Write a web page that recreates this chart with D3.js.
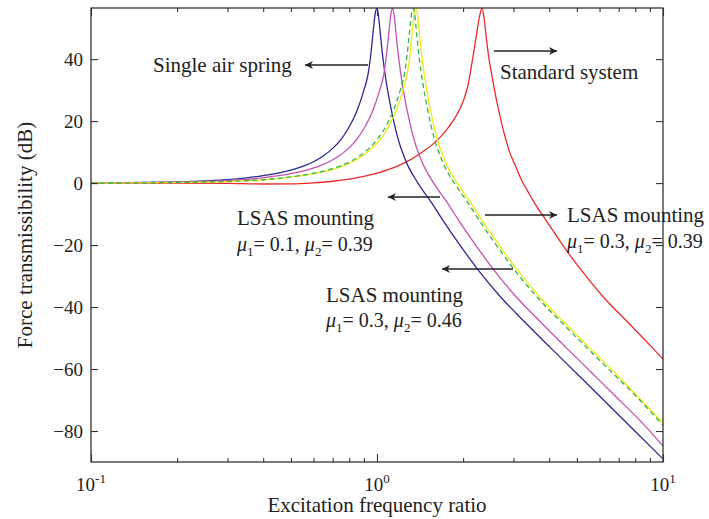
<!DOCTYPE html>
<html>
<head>
<meta charset="utf-8">
<script src="https://cdn.jsdelivr.net/npm/d3@7"></script>
<style>
  body { margin: 0; background: #fff; }
  svg text { font-family: "Liberation Serif", "DejaVu Serif", serif; fill: #222; }
</style>
</head>
<body>
<div id="chart"></div>
<script>
// data: [frequency ratio, dB]
var singleAirSpring = [[0.1,0],[0.15,0.2],[0.2,0.4],[0.25,0.7],[0.3,1.1],[0.35,1.7],[0.4,2.4],[0.45,3.2],[0.5,4.2],[0.55,5.4],[0.6,6.9],[0.65,8.8],[0.7,11.2],[0.75,14.2],[0.8,18.2],[0.85,23.2],[0.9,30],[0.93,35],[0.95,41],[0.97,49],[0.985,54.5],[1.0,56.4],[1.015,53],[1.03,47],[1.05,40],[1.08,32],[1.12,24],[1.175,15.5],[1.25,8],[1.3,4.5],[1.38,0.5],[1.45,-2.5],[1.53,-5.5],[1.7,-12],[1.95,-20],[2.3,-29],[2.69,-36.5],[3.3,-45],[4.03,-53],[5,-61.5],[6,-68.7],[7.5,-77.6],[10,-89]];

var lsas01_039 = [[0.1,0],[0.17,0.2],[0.227,0.4],[0.284,0.7],[0.34,1.1],[0.397,1.7],[0.454,2.4],[0.511,3.2],[0.568,4.2],[0.624,5.4],[0.681,6.9],[0.738,8.8],[0.795,11.2],[0.851,14.2],[0.908,18.2],[0.965,23.2],[1.022,30],[1.056,35],[1.078,41],[1.101,49],[1.118,54.5],[1.135,56.4],[1.152,53],[1.169,47],[1.192,40],[1.226,32],[1.271,24],[1.334,15.5],[1.419,8],[1.476,4.5],[1.566,0.5],[1.646,-2.5],[1.737,-5.5],[1.93,-12],[2.213,-20],[2.61,-29],[3.053,-36.5],[3.746,-45],[4.574,-53],[5.675,-61.5],[6.81,-68.7],[8.51,-77.6],[10,-84.8]];

var lsas03_039 = [[0.1,0],[0.206,0.2],[0.274,0.4],[0.343,0.7],[0.411,1.1],[0.48,1.7],[0.548,2.4],[0.617,3.2],[0.685,4.2],[0.754,5.4],[0.822,6.9],[0.891,8.8],[0.959,11.2],[1.028,14.2],[1.096,18.2],[1.165,23.2],[1.233,30],[1.274,35],[1.302,41],[1.329,49],[1.349,54.5],[1.37,56.4],[1.391,53],[1.411,47],[1.439,40],[1.48,32],[1.534,24],[1.61,15.5],[1.713,8],[1.781,4.5],[1.891,0.5],[1.987,-2.5],[2.096,-5.5],[2.329,-12],[2.672,-20],[3.151,-29],[3.685,-36.5],[4.521,-45],[5.521,-53],[6.85,-61.5],[8.22,-69.2],[10,-77.4]];

var lsas03_046 = [[0.1,0],[0.201,0.2],[0.268,0.4],[0.335,0.7],[0.402,1.1],[0.469,1.7],[0.536,2.4],[0.603,3.2],[0.67,4.2],[0.737,5.4],[0.804,6.9],[0.871,8.8],[0.938,11.2],[1.005,14.2],[1.072,18.2],[1.139,23.2],[1.206,30],[1.246,35],[1.273,41],[1.3,49],[1.32,54.5],[1.34,56.4],[1.36,53],[1.38,47],[1.407,40],[1.447,32],[1.501,24],[1.575,15.5],[1.675,8],[1.742,4.5],[1.849,0.5],[1.943,-2.5],[2.05,-5.5],[2.278,-12],[2.613,-20],[3.082,-29],[3.605,-36.5],[4.422,-45],[5.4,-53],[6.7,-61.5],[8.04,-68.7],[10,-78.2]];

var standardSystem = [[0.1,0],[0.2,0],[0.3,-0.1],[0.4,-0.3],[0.5,-0.25],[0.6,0.1],[0.7,0.6],[0.8,1.3],[0.9,2.2],[1.0,3.2],[1.1,4.4],[1.2,5.8],[1.3,7.4],[1.45,10.2],[1.6,13.3],[1.75,17.2],[1.9,22],[2.0,26.3],[2.08,31.5],[2.15,39],[2.22,47],[2.28,53.5],[2.33,56.4],[2.37,53],[2.41,47],[2.46,40.5],[2.53,34],[2.62,26.5],[2.75,18],[2.91,10],[3.05,5.5],[3.2,1],[3.36,-2.5],[3.53,-6],[3.9,-12],[4.46,-20],[5.27,-29],[6.15,-36.5],[7.55,-45],[9.15,-53],[10,-56.8]];

var yTickValues = [-80, -60, -40, -20, 0, 20, 40];
var xMajorTicks = [0.1, 1, 10];
var xMajorExponents = ["-1", "0", "1"];
var xMinorTicks = [0.2,0.3,0.4,0.5,0.6,0.7,0.8,0.9,2,3,4,5,6,7,8,9];

var width = 709, height = 519;
var plotLeft = 91, plotRight = 663, plotTop = 8, plotBottom = 462;

var svg = d3.select("#chart").append("svg")
    .attr("width", width)
    .attr("height", height);

var x = d3.scaleLog().domain([0.1, 10]).range([plotLeft, plotRight]);
var y = d3.scaleLinear().domain([-90, 56.5]).range([plotBottom, plotTop]);

svg.append("clipPath").attr("id", "plotclip")
    .append("rect")
    .attr("x", plotLeft).attr("y", plotTop)
    .attr("width", plotRight - plotLeft).attr("height", plotBottom - plotTop);

// curves
var line = d3.line()
    .x(d => x(d[0]))
    .y(d => y(d[1]))
    .curve(d3.curveMonotoneX);

var series = [
    {data: standardSystem, color: "#ee2a2a", dash: null},
    {data: singleAirSpring, color: "#2a2a8e", dash: null},
    {data: lsas01_039, color: "#c451b4", dash: null},
    {data: lsas03_039, color: "#f0ea10", dash: null},
    {data: lsas03_046, color: "#2fb54e", dash: "5,3.5"}
];

var plot = svg.append("g").attr("clip-path", "url(#plotclip)");
plot.selectAll("path")
    .data(series)
    .enter().append("path")
    .attr("d", d => line(d.data))
    .attr("fill", "none")
    .attr("stroke", d => d.color)
    .attr("stroke-width", 1.3)
    .attr("stroke-dasharray", d => d.dash);

// axes, all ticks pointing inward
function noLabels(axis) { return axis.tickFormat(""); }

svg.append("g").attr("transform", "translate(0," + plotBottom + ")")
    .call(noLabels(d3.axisBottom(x).tickValues(xMinorTicks).tickSizeInner(-4).tickSizeOuter(0)));
svg.append("g").attr("transform", "translate(0," + plotBottom + ")")
    .call(noLabels(d3.axisBottom(x).tickValues(xMajorTicks).tickSizeInner(-8).tickSizeOuter(0)));
svg.append("g").attr("transform", "translate(0," + plotTop + ")")
    .call(noLabels(d3.axisTop(x).tickValues(xMinorTicks).tickSizeInner(-4).tickSizeOuter(0)));
svg.append("g").attr("transform", "translate(0," + plotTop + ")")
    .call(noLabels(d3.axisTop(x).tickValues(xMajorTicks).tickSizeInner(-8).tickSizeOuter(0)));

var yLeft = svg.append("g").attr("transform", "translate(" + plotLeft + ",0)")
    .call(d3.axisLeft(y).tickValues(yTickValues).tickSizeInner(-7).tickSizeOuter(0).tickPadding(8));
svg.append("g").attr("transform", "translate(" + plotRight + ",0)")
    .call(noLabels(d3.axisRight(y).tickValues(yTickValues).tickSizeInner(-7).tickSizeOuter(0)));

svg.selectAll(".domain").remove();
svg.selectAll(".tick line").attr("stroke", "#333").attr("stroke-width", 1.1);
yLeft.selectAll("text")
    .attr("font-size", 19)
    .attr("font-family", "Liberation Serif")
    .attr("fill", "#222");

svg.append("rect")
    .attr("x", plotLeft).attr("y", plotTop)
    .attr("width", plotRight - plotLeft).attr("height", plotBottom - plotTop)
    .attr("fill", "none")
    .attr("stroke", "#333")
    .attr("stroke-width", 1.3);

// x tick labels 10^k
xMajorTicks.forEach(function(v, i) {
    var t = svg.append("text")
        .attr("x", x(v))
        .attr("y", 491)
        .attr("text-anchor", "middle")
        .attr("font-size", 19);
    t.append("tspan").text("10");
    t.append("tspan").attr("dy", -8).attr("font-size", 13).text(xMajorExponents[i]);
});

// axis titles
svg.append("text")
    .attr("x", (plotLeft + plotRight) / 2)
    .attr("y", 512)
    .attr("text-anchor", "middle")
    .attr("font-size", 21)
    .text("Excitation frequency ratio");

svg.append("text")
    .attr("transform", "translate(32," + ((plotTop + plotBottom) / 2) + ") rotate(-90)")
    .attr("text-anchor", "middle")
    .attr("font-size", 21)
    .text("Force transmissibility (dB)");

// annotations
svg.append("defs").append("marker")
    .attr("id", "head")
    .attr("viewBox", "0 0 10 10")
    .attr("refX", 10).attr("refY", 5)
    .attr("markerWidth", 12).attr("markerHeight", 8)
    .attr("markerUnits", "userSpaceOnUse")
    .attr("orient", "auto")
    .append("path")
    .attr("d", "M0,0 L10,5 L0,10 L3,5 Z")
    .attr("fill", "#222");

var arrows = [
    {x1: 368, x2: 305, y: 65},
    {x1: 494, x2: 557, y: 51},
    {x1: 440, x2: 388, y: 197},
    {x1: 513, x2: 442, y: 269},
    {x1: 485, x2: 557, y: 215}
];
svg.selectAll(".arrow")
    .data(arrows)
    .enter().append("line")
    .attr("class", "arrow")
    .attr("x1", d => d.x1).attr("x2", d => d.x2)
    .attr("y1", d => d.y).attr("y2", d => d.y)
    .attr("stroke", "#222")
    .attr("stroke-width", 1.3)
    .attr("marker-end", "url(#head)");

function label(xp, yp, txt) {
    svg.append("text").attr("x", xp).attr("y", yp).attr("font-size", 21).text(txt);
}
function muLabel(xp, yp, m1, m2) {
    var t = svg.append("text").attr("x", xp).attr("y", yp).attr("font-size", 20);
    t.append("tspan").attr("font-style", "italic").text("\u03bc");
    t.append("tspan").attr("font-size", 13).attr("dy", 5).text("1");
    t.append("tspan").attr("dy", -5).text("= " + m1 + ", ");
    t.append("tspan").attr("font-style", "italic").text("\u03bc");
    t.append("tspan").attr("font-size", 13).attr("dy", 5).text("2");
    t.append("tspan").attr("dy", -5).text("= " + m2);
}

label(153, 72, "Single air spring");
label(500, 79, "Standard system");
label(237, 225, "LSAS mounting");
muLabel(237, 251, "0.1", "0.39");
label(326, 302, "LSAS mounting");
muLabel(326, 327, "0.3", "0.46");
label(567, 222, "LSAS mounting");
muLabel(567, 248, "0.3", "0.39");
</script>
</body>
</html>
